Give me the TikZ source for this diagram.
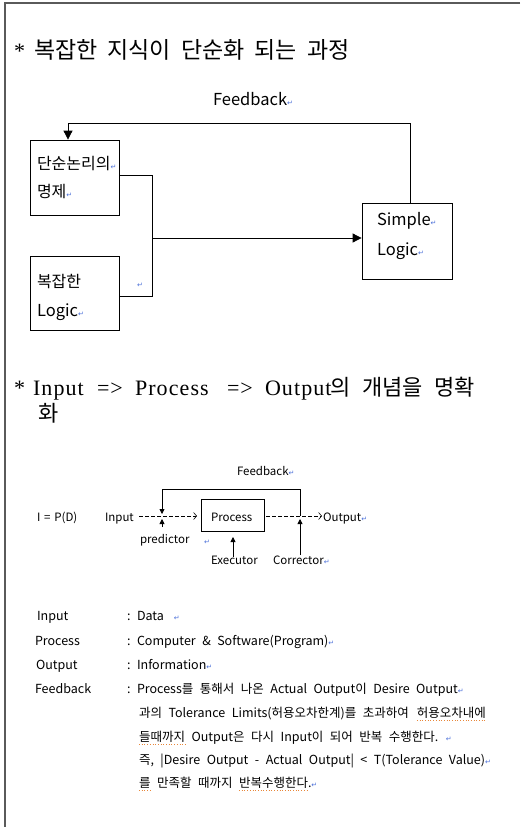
\documentclass[tikz,border=0pt]{standalone}
\usepackage{fontspec}
\setmainfont{Noto Sans CJK KR}
\newfontfamily\serifL{Liberation Serif}[LetterSpace=5]
\newfontfamily\symf{DejaVu Sans}
\usetikzlibrary{arrows.meta,calc}
\definecolor{pmblue}{HTML}{4A6FD8}
\definecolor{frame}{HTML}{5A5A5A}
\definecolor{squig}{HTML}{E8873A}
\newcommand\pmk{{\symf\fontsize{7}{7}\selectfont\textcolor{pmblue}{↵}}}
\newcommand\widesp{\spaceskip=6.5pt plus 1pt minus 0pt\relax}
\tikzset{
  txt/.style={anchor=base west,inner sep=0pt,outer sep=0pt},
  ttl/.style={txt,font=\fontsize{23}{23}\selectfont},
  ttlL/.style={txt,font=\serifL\fontsize{22}{22}\selectfont},
  ttlK/.style={txt,font=\fontsize{22}{22}\selectfont},
  dA/.style={txt,font=\fontsize{16.5}{16.5}\selectfont},
  dK/.style={txt,font=\fontsize{16}{16}\selectfont},
  dB/.style={txt,font=\fontsize{11.5}{11.5}\selectfont},
  bt/.style={txt,font=\fontsize{12.5}{12.5}\selectfont\widesp},
  boxA/.style={draw,line width=0.8pt,inner sep=0pt,minimum width=89pt,minimum height=75pt},
  ln/.style={line width=0.8pt},
  bigtip/.style={-{Triangle[length=9pt,width=9pt]}},
  smtip/.style={-{Triangle[length=5pt,width=5pt]}},
  dsh/.style={line width=0.6pt,dash pattern=on 3.5pt off 2.5pt,-{Straight Barb[length=3pt,width=7pt]}},
  sq/.style={squig,line width=0.7pt,dotted},
}
\begin{document}
\begin{tikzpicture}[x=1pt,y=-1pt]
\useasboundingbox (0,0) rectangle (520,827);
% frame
\draw[frame,line width=1.3pt] (520,3) -- (5,3) -- (5,827);

% title 1
\node[ttlL] (t1a) at (14,58) {*};
\node[ttl] (t1b) at (34,58) {복잡한};
\node[ttl] (t1c) at (107.5,58) {지식이};
\node[ttl] (t1d) at (181,58) {단순화};
\node[ttl] (t1e) at (254.5,58) {되는};
\node[ttl] (t1f) at (307,58) {과정};

% diagram 1
\node[dA] (fb1) at (213,105) {Feedback\pmk};
\node[boxA] (b1) at (74.5,177.5) {};
\node[boxA,minimum height=74pt] (b2) at (74.5,293) {};
\node[boxA,minimum width=90pt,minimum height=76pt] (b3) at (407,241) {};
\node[dK] (b1t1) at (37,169) {단순논리의\pmk};
\node[dK] (b1t2) at (37,197) {명제\pmk};
\node[dK] (b2t1) at (37,287) {복잡한};
\node[dA] (b2t2) at (37,316) {Logic\pmk};
\node[dA] (b3t1) at (377,225) {Simple\pmk};
\node[dA] (b3t2) at (377,255) {Logic\pmk};
\node[txt] (pm1) at (137,287) {\pmk};
\coordinate (j1) at (152,175);
\coordinate (j2) at (152,296);
\coordinate (j3) at (152,238);
\coordinate (f1) at (410,123);
\coordinate (f2) at (68,123);
\draw[ln] (b1.east |- j1) -- (j1) -- (j2) -- (b2.east |- j2);
\draw[ln,bigtip] (j3) -- (b3.west |- j3);
\draw[ln] (b3.north -| f1) -- (f1) -- (f2);
\draw[ln,bigtip] (f2) -- (f2 |- b1.north);

% title 2
\node[ttlL] (t2a) at (14,395) {*};
\node[ttlL] (t2b) at (33,395) {Input};
\node[ttlL] (t2c) at (97,395) {=>};
\node[ttlL] (t2d) at (135,395) {Process};
\node[ttlL] (t2e) at (227,395) {=>};
\node[ttlL] (t2f) at (265,395) {Output};
\node[ttlK] (t2g) at (330,395) {의};
\node[ttlK] (t2h) at (362,395) {개념을};
\node[ttlK] (t2i) at (434,395) {명확};
\node[ttlK] (t2j) at (38,421) {화};

% diagram 2
\node[dB] (fb2) at (237,475.5) {Feedback\pmk};
\node[dB] (ipd) at (37,521) {I\,\,=\,\,P(D)};
\node[dB] (inp) at (105,521) {Input};
\node[draw,ln,inner sep=0pt,minimum width=63pt,minimum height=32pt] (proc) at (232.5,515) {};
\node[dB] (proct) at (211,521) {Process};
\node[dB] (outp) at (323,521) {Output\pmk};
\node[dB] (pred) at (140,543) {predictor};
\node[dB] (exec) at (211,564) {Executor};
\node[dB] (corr) at (273,564) {Corrector\pmk};
\node[txt] (pm2) at (204,544) {\pmk};
\coordinate (d1) at (139,516);
\coordinate (d2) at (197,516);
\coordinate (d3) at (266,516);
\coordinate (d4) at (322,516);
\coordinate (g1) at (300,516);
\coordinate (g2) at (300,489);
\coordinate (g3) at (162,489);
\coordinate (g4) at (162,514);
\draw[dsh] (d1) -- (d2);
\draw[dsh] (d3) -- (d4);
\draw[ln] (g1) -- (g2) -- (g3);
\draw[ln,smtip] (g3) -- (g4);
\coordinate (p1) at (162,527);
\coordinate (p2) at (162,519);
\draw[ln,smtip] (p1) -- (p2);
\coordinate (c1) at (300,555);
\coordinate (c2) at (300,519);
\draw[ln,smtip] (c1) -- (c2);
\coordinate (e1) at (233,557);
\coordinate (e2) at (233,537);
\draw[ln,smtip] (e1) -- (e2);

% bottom text
\node[bt] (k1) at (37,620) {Input};
\node[bt] (k2) at (35,645) {Process};
\node[bt] (k3) at (36,669) {Output};
\node[bt] (k4) at (35,693) {Feedback};
\node[bt] (c1t) at (127,620) {:};
\node[bt] (c2t) at (127,645) {:};
\node[bt] (c3t) at (127,669) {:};
\node[bt] (c4t) at (127,693) {:};
\node[bt] (v1) at (137,620) {Data\hspace{10pt}\pmk};
\node[bt] (v2) at (137,645) {Computer \& Software(Program)\pmk};
\node[bt] (v3) at (137,669) {Information\pmk};
\node[bt] (v4) at (137,693) {Process를 통해서 나온 Actual Output이 Desire Output\pmk};
\node[bt] (v5a) at (139,717) {과의 Tolerance Limits(허용오차한계)를 초과하여};
\node[bt,xshift=8pt] (v5b) at (v5a.base east) {허용오차내에};
\node[bt] (v6a) at (139,741) {들때까지};
\node[bt,xshift=6.5pt] (v6b) at (v6a.base east) {Output은 다시 Input이 되어 반복 수행한다. \pmk};
\node[bt] (v7) at (139,764) {즉, |Desire Output - Actual Output| < T(Tolerance Value)\pmk};
\node[bt] (v8a) at (139,787) {를};
\node[bt,xshift=6.5pt] (v8b) at (v8a.base east) {만족할 때까지};
\node[bt,xshift=6.5pt] (v8c) at (v8b.base east) {반복수행한다};
\node[bt] (v8d) at (v8c.base east) {.\pmk};
\draw[sq] ([yshift=-3.5pt]v5b.base west) -- ([yshift=-3.5pt]v5b.base east);
\draw[sq] ([yshift=-3.5pt]v6a.base west) -- ([yshift=-3.5pt]v6a.base east);
\draw[sq] ([yshift=-3.5pt]v8a.base west) -- ([yshift=-3.5pt]v8a.base east);
\draw[sq] ([yshift=-3.5pt]v8c.base west) -- ([yshift=-3.5pt]v8c.base east);
\end{tikzpicture}
\end{document}
